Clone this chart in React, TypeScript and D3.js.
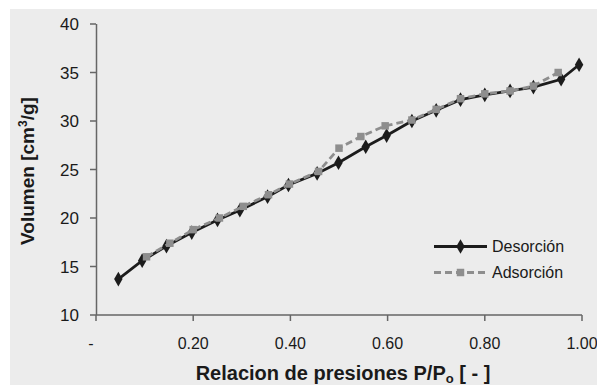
import React from "react";
import * as d3 from "d3";

// Isotherm data: relative pressure P/Po and adsorbed volume [cm3/g]
const desorcionX = [0.046, 0.095, 0.145, 0.197, 0.25, 0.296, 0.353, 0.396, 0.455, 0.499, 0.555, 0.598, 0.65, 0.70, 0.75, 0.80, 0.852, 0.90, 0.957, 0.994];
const desorcionY = [13.7, 15.6, 17.1, 18.5, 19.8, 20.8, 22.2, 23.4, 24.6, 25.7, 27.35, 28.5, 30.0, 31.1, 32.2, 32.7, 33.1, 33.5, 34.3, 35.8];

const adsorcionX = [0.104, 0.152, 0.2, 0.254, 0.303, 0.355, 0.398, 0.458, 0.5, 0.545, 0.595, 0.65, 0.70, 0.75, 0.80, 0.852, 0.90, 0.951];
const adsorcionY = [16.0, 17.4, 18.8, 20.0, 21.2, 22.4, 23.5, 24.8, 27.2, 28.4, 29.5, 30.1, 31.2, 32.3, 32.8, 33.1, 33.6, 35.0];

const xTicks = [0, 0.2, 0.4, 0.6, 0.8, 1.0];
const xTickLabels = ["-", "0.20", "0.40", "0.60", "0.80", "1.00"];
const yTicks = [10, 15, 20, 25, 30, 35, 40];

const W = 597;
const H = 387;
const FONT = "'Liberation Sans', Arial, sans-serif";

export default function App() {
  const x = d3.scaleLinear().domain([0, 1]).range([96, 582]);
  const y = d3.scaleLinear().domain([10, 40]).range([315, 24]);

  const des = desorcionX.map((v, i) => [v, desorcionY[i]] as [number, number]);
  const ads = adsorcionX.map((v, i) => [v, adsorcionY[i]] as [number, number]);

  const line = d3
    .line<[number, number]>()
    .x((d) => x(d[0]))
    .y((d) => y(d[1]));

  const diamond = d3.symbol().type(d3.symbolDiamond).size(62)() as string;
  const square = d3.symbol().type(d3.symbolSquare).size(56)() as string;

  const axisColor = "#666";
  const blackColor = "#1c1c1c";
  const grayColor = "#8e8e8e";
  const textColor = "#1a1a1a";

  return (
    <svg
      width={W}
      height={H}
      style={{ position: "absolute", left: 0, top: 0 }}
      fontFamily={FONT}
    >
      <rect x={0} y={0} width={W} height={H} fill="#ffffff" />
      <rect x={10} y={9} width={W - 10} height={376} fill="#ececec" />

      {/* y axis */}
      <line x1={x(0) + 0.5} x2={x(0) + 0.5} y1={y(40)} y2={y(10)} stroke={axisColor} strokeWidth={1.5} />
      {yTicks.map((t) => (
        <g key={"y" + t}>
          <line x1={x(0) - 6} x2={x(0)} y1={y(t)} y2={y(t)} stroke={axisColor} strokeWidth={1.5} />
          <text x={79} y={y(t)} dy="0.36em" textAnchor="end" fontSize={17} fill={textColor}>
            {t}
          </text>
        </g>
      ))}

      {/* x axis */}
      <line x1={x(0)} x2={x(1)} y1={y(10)} y2={y(10)} stroke={axisColor} strokeWidth={1.5} />
      {xTicks.map((t, i) => (
        <g key={"x" + t}>
          <line x1={x(t)} x2={x(t)} y1={y(10)} y2={y(10) + 6} stroke={axisColor} strokeWidth={1.5} />
          <text
            x={i === 0 ? x(t) - 5 : x(t)}
            y={343}
            dy="0.36em"
            textAnchor="middle"
            fontSize={16}
            fill={textColor}
          >
            {xTickLabels[i]}
          </text>
        </g>
      ))}

      {/* axis titles */}
      <text x={343} y={380} textAnchor="middle" fontSize={20} fontWeight="bold" fill={textColor}>
        Relacion de presiones P/P<tspan fontSize={13} dy={3}>o</tspan>
        <tspan dy={-3}> [ - ]</tspan>
      </text>
      <text
        transform={`translate(34, 171) rotate(-90)`}
        textAnchor="middle"
        fontSize={19}
        fontWeight="bold"
        fill={textColor}
      >
        Volumen [cm<tspan fontSize={12} dy={-7}>3</tspan>
        <tspan dy={7}>/g]</tspan>
      </text>

      {/* Desorción series */}
      <path d={line(des) ?? ""} fill="none" stroke={blackColor} strokeWidth={2.8} />
      {des.map((d, i) => (
        <path key={"d" + i} d={diamond} transform={`translate(${x(d[0])},${y(d[1])})`} fill={blackColor} />
      ))}

      {/* Adsorción series, drawn over the desorption branch */}
      <path d={line(ads) ?? ""} fill="none" stroke={grayColor} strokeWidth={2.8} strokeDasharray="7,4" />
      {ads.map((d, i) => (
        <path key={"a" + i} d={square} transform={`translate(${x(d[0])},${y(d[1])})`} fill={grayColor} />
      ))}

      {/* legend */}
      <g>
        <line x1={434} x2={487} y1={246.5} y2={246.5} stroke={blackColor} strokeWidth={2.8} />
        <path d={diamond} transform="translate(460.5,246.5)" fill={blackColor} />
        <text x={492} y={246.5} dy="0.36em" fontSize={16} fill={textColor}>
          Desorción
        </text>
        <line x1={434} x2={487} y1={272.5} y2={272.5} stroke={grayColor} strokeWidth={2.8} strokeDasharray="7,4" />
        <path d={square} transform="translate(460.5,272.5)" fill={grayColor} />
        <text x={492} y={272.5} dy="0.36em" fontSize={16} fill={textColor}>
          Adsorción
        </text>
      </g>
    </svg>
  );
}
